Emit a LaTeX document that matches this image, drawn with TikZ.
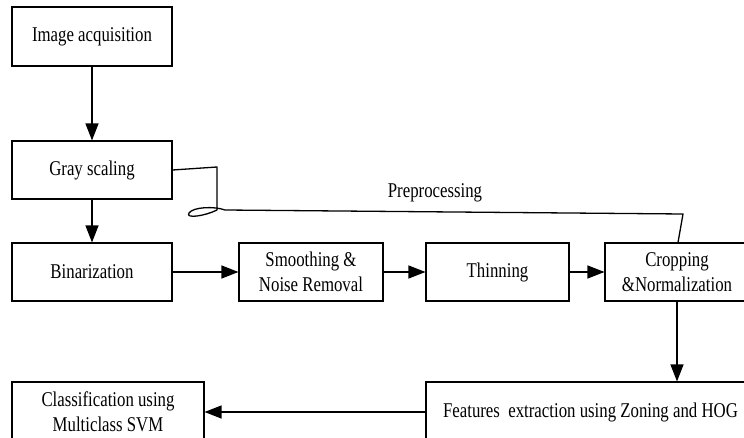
\documentclass[tikz,border=0pt]{standalone}
\usepackage{fontspec}
\setmainfont{Liberation Serif}[FakeStretch=0.8]
\usetikzlibrary{arrows.meta}
\begin{document}
\begin{tikzpicture}[x=1pt,y=-1pt,
  stepbox/.style={draw=black,line width=1.1pt,inner sep=0pt,align=center,
    font=\fontsize{21}{25}\selectfont},
  arr/.style={line width=1.2pt,-{Triangle[length=17pt,width=13pt]}},
  lbl/.style={font=\fontsize{21}{25}\selectfont,inner sep=0pt}]
\useasboundingbox (0,0) rectangle (744,438);
\node[stepbox,minimum width=160,minimum height=59] (acq) at (92,36.5) {Image acquisition};
\node[stepbox,minimum width=160,minimum height=58] (gray) at (92,170) {Gray scaling};
\node[stepbox,minimum width=160,minimum height=58] (bin) at (92,272) {Binarization};
\node[stepbox,minimum width=144,minimum height=58] (smooth) at (311,272) {Smoothing \&\\Noise Removal};
\node[stepbox,minimum width=143,minimum height=58] (thin) at (497.5,272) {Thinning};
\node[stepbox,minimum width=144,minimum height=58] (crop) at (677,272) {Cropping\\\&Normalization};
\node[stepbox,minimum width=329,minimum height=60] (feat) at (590.5,412) {Features\ \ extraction using Zoning and HOG};
\node[stepbox,minimum width=192,minimum height=60] (cls) at (108,412) {Classification using\\Multiclass SVM};
\node[lbl] (pre) at (435,193) {Preprocessing};
\draw[arr] (acq) -- (gray);
\draw[arr] (gray) -- (bin);
\draw[arr] (bin) -- (smooth);
\draw[arr] (smooth) -- (thin);
\draw[arr] (thin) -- (crop);
\draw[arr] (crop.south) -- (crop.south |- feat.north);
\draw[arr] (feat.west) -- (cls.east);
\coordinate (b1) at (217,167);
\coordinate (b2) at (217,210);
\coordinate (b3) at (225,210);
\coordinate (b4) at (683,214);
\draw[line width=1.3pt,line join=round] (gray.east) -- (b1) -- (b2)
  .. controls (205,216) and (185,219) .. (189,213)
  .. controls (193,207) and (214,206) .. (b3) -- (b4) -- ([xshift=1pt]crop.north);
\end{tikzpicture}
\end{document}
